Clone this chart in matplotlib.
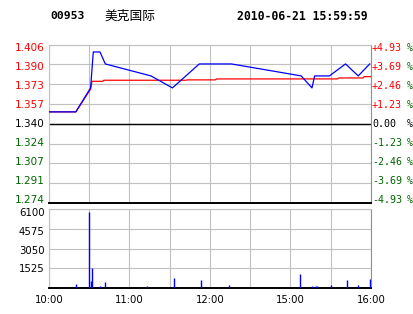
import numpy as np
import matplotlib
matplotlib.use("Agg")
import matplotlib.pyplot as plt
import matplotlib.transforms as mtransforms

# ---- data ----
stock_code = "00953"
stock_name = "美克国际"
stamp = "2010-06-21 15:59:59"
prev_close = 1.340

# minutes since 10:00 (trading minutes, lunch removed)
price_min = [0, 20, 31, 32, 33, 38, 42, 76, 92, 112, 136, 188, 196, 198, 209, 221, 230.5, 239]
price = [1.35, 1.35, 1.37, 1.385, 1.40, 1.40, 1.39, 1.38, 1.37, 1.39, 1.39, 1.38, 1.37, 1.38, 1.38, 1.39, 1.38, 1.39]

avg_min = [0, 20, 31, 32, 40, 41, 102, 103, 124, 125, 215, 216, 234, 235, 240]
avg = [1.35, 1.35, 1.369, 1.3755, 1.3755, 1.3764, 1.3764, 1.3767, 1.3767, 1.3775, 1.3775,
       1.3783, 1.3783, 1.3794, 1.3794]

vol_min = [20, 30, 31, 32, 38, 42, 73, 93, 113, 134, 187, 196, 199, 200, 210, 222, 230, 239, 240]
vol = [300, 5900, 540, 1570, 150, 460, 150, 770, 620, 230, 1080, 150, 150, 150, 230, 620, 230, 700, 230]

left_labels = ["1.406", "1.390", "1.373", "1.357", "1.340", "1.324", "1.307", "1.291", "1.274"]
right_labels = ["+4.93", "+3.69", "+2.46", "+1.23", "0.00", "-1.23", "-2.46", "-3.69", "-4.93"]
vol_ticks = [1525, 3050, 4575, 6100]
time_ticks = [0, 60, 120, 180, 240]
time_labels = ["10:00", "11:00", "12:00", "15:00", "16:00"]

RED = "#ff0000"
GREEN = "#006600"
GRID = "#c0c0c0"

W, H = 414, 314
fig = plt.figure(figsize=(W / 100, H / 100), dpi=100)

def px_axes(l, t, r, b):
    return fig.add_axes([l / W, 1 - b / H, (r - l) / W, (b - t) / H])

def down(px):
    return mtransforms.ScaledTranslation(0, -px / 100, fig.dpi_scale_trans)

def style_box(a):
    a.tick_params(length=0)
    a.grid(True, color=GRID, lw=0.8, zorder=0)
    for s in ["left", "right", "top"]:
        a.spines[s].set_color(GRID)
        a.spines[s].set_linewidth(0.8)
    a.spines["right"].set_color("#909090")
    a.spines["bottom"].set_color("black")
    a.spines["bottom"].set_linewidth(1.4)

hi = prev_close * 1.0493
lo = prev_close * 0.9507
levels = np.linspace(hi, lo, 9)

# ---- price panel ----
ax = px_axes(49, 44.7, 371, 203)
ax.plot(avg_min, avg, color=RED, lw=0.9, zorder=3)
ax.plot(price_min, price, color="#0000ff", lw=0.9, zorder=4)
ax.axhline(prev_close, color="black", lw=1.0, zorder=2)
ax.set_xlim(0, 240)
ax.set_ylim(lo, hi)
ax.set_xticks(np.arange(0, 241, 30))
ax.set_xticklabels([])
ax.set_yticks(levels)
ax.set_yticklabels([])
style_box(ax)

trans = mtransforms.blended_transform_factory(ax.transAxes, ax.transData)
for i, (v, ltxt, rtxt) in enumerate(zip(levels, left_labels, right_labels)):
    c = RED if rtxt.startswith("+") else (GREEN if rtxt.startswith("-") else "black")
    tr = trans + down(3 - 6 * i / 8)
    ax.text((44.5 - 49) / 322, v, ltxt, transform=tr, ha="right", va="center",
            fontsize=7.5, family="DejaVu Sans", color=c, clip_on=False)
    ax.text((372 - 49) / 322, v, rtxt, transform=tr, ha="left", va="center",
            fontsize=7.2, family="DejaVu Sans Mono", color=c, clip_on=False)
    ax.text((407 - 49) / 322, v, "%", transform=tr, ha="left", va="center",
            fontsize=7.2, family="DejaVu Sans Mono",
            color=GREEN if rtxt != "0.00" else "black", clip_on=False)

# ---- volume panel ----
vx = px_axes(49, 209, 371, 288)
vx.vlines(vol_min, 0, vol, color="#0000ff", lw=1.0, zorder=3)
vx.set_xlim(0, 240)
vx.set_ylim(0, 6100)
vx.set_xticks(np.arange(0, 241, 30))
vx.set_xticklabels([time_labels[time_ticks.index(m)] if m in time_ticks else ""
                    for m in range(0, 241, 30)], fontsize=7.3, family="DejaVu Sans")
vx.tick_params(axis="x", pad=5)
vx.set_yticks([0] + vol_ticks)
vx.set_yticklabels([])
style_box(vx)

vtrans = mtransforms.blended_transform_factory(vx.transAxes, vx.transData)
for v, dy in zip(vol_ticks, [0.7, 2, 3, 4]):
    vx.text((44.5 - 49) / 322, v, str(v), transform=vtrans + down(dy), ha="right",
            va="center", fontsize=7.3, family="DejaVu Sans", clip_on=False)

# ---- header ----
fig.text(50 / W, 1 - 16 / H, stock_code, fontsize=8.2, family="DejaVu Sans Mono",
         weight="bold", va="center", ha="left")
fig.text(104 / W, 1 - 16 / H, stock_name, fontsize=9.2, family=["Noto Sans CJK SC", "DejaVu Sans"],
         va="center", ha="left")
fig.text(237.5 / W, 1 - 16 / H, stamp, fontsize=8.3, family="DejaVu Sans Mono",
         weight="bold", va="center", ha="left")

fig.savefig("out.png", dpi=100)
